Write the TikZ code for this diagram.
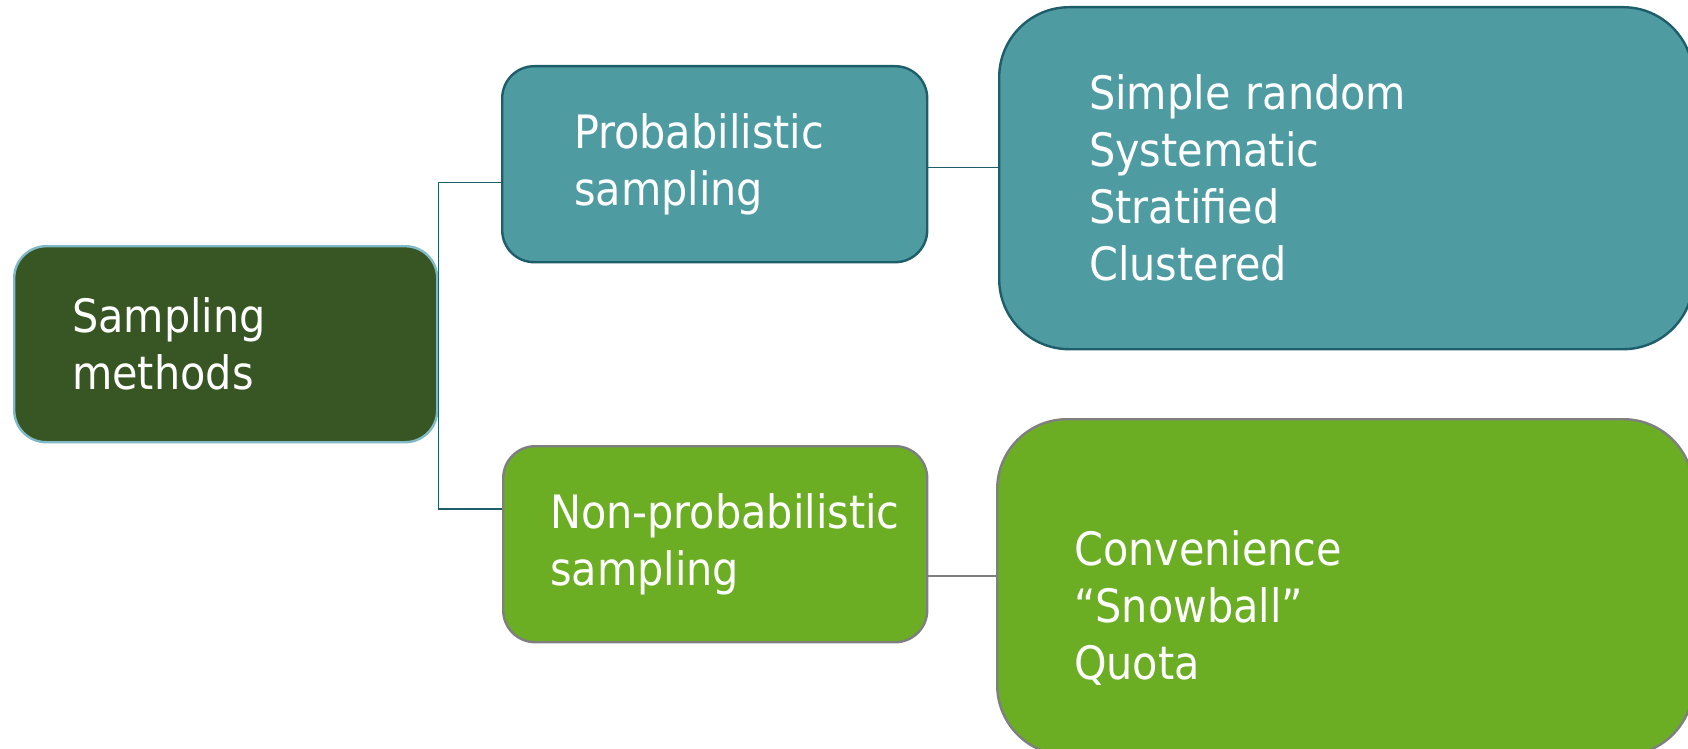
\documentclass[tikz,border=0pt]{standalone}
\usepackage{fontspec}
\setmainfont{DejaVu Sans Condensed}
\usetikzlibrary{calc}

\definecolor{rootgreen}{HTML}{375623}
\definecolor{rootline}{HTML}{7FBAC6}
\definecolor{probteal}{HTML}{4E9BA2}
\definecolor{probline}{HTML}{1D5E6A}
\definecolor{nongreen}{HTML}{6BAE24}
\definecolor{nonline}{HTML}{7F7F7F}

\begin{document}
\begin{tikzpicture}[x=0.5pt, y=-0.5pt,
    box/.style={rectangle, anchor=north west, text=white, align=left,
      font=\fontsize{23}{28.5}\selectfont, line width=1.2pt, inner ysep=0pt},
    small/.style={box, rounded corners=16pt, minimum height=98pt},
    big/.style={box, rounded corners=35pt},
    rootbox/.style={small, fill=rootgreen, draw=rootline},
    probbox/.style={fill=probteal, draw=probline},
    nonbox/.style={fill=nongreen, draw=nonline},
    tree/.style={draw=probline, line width=0.8pt},
    nonlink/.style={draw=nonline, line width=0.8pt}]
  % page in pixels, y going down
  \useasboundingbox (0,0) rectangle (1688,749);
  % boxes
  \node[rootbox, minimum width=211.5pt, inner xsep=29pt, text width=153.5pt]
    (root) at (13,245) {Sampling\\methods};
  \node[small, probbox, minimum width=212.5pt, inner xsep=36pt, text width=140.5pt]
    (prob) at (501,65) {Probabilistic\\sampling};
  \node[small, nonbox, minimum width=212pt, inner xsep=23.5pt, text width=165pt]
    (nonprob) at (502,445) {\mbox{Non-probabilistic}\\sampling};
  \node[big, probbox, minimum width=347pt, minimum height=171pt, inner xsep=45pt, text width=257pt]
    (problist) at (998,6) {Simple random\\Systematic\\Stratified\\Clustered};
  % strut on the first line pushes the list a little lower
  \node[big, nonbox, minimum width=348pt, minimum height=168pt, inner xsep=38.5pt, text width=271pt]
    (nonlist) at (996,418) {\rule{0pt}{38pt}Convenience\\“Snowball”\\Quota};
  % connectors
  \draw[tree] ($(prob.west)+(0,18.5)$) -| (root.east) |- ($(nonprob.west)+(0,-35)$);
  \draw[tree] ($(prob.east)+(0,3.5)$) coordinate (ptop) -- (ptop -| problist.west);
  \draw[nonlink] ($(nonprob.east)+(0,32)$) coordinate (pnon) -- (pnon -| nonlist.west);
\end{tikzpicture}
\end{document}
